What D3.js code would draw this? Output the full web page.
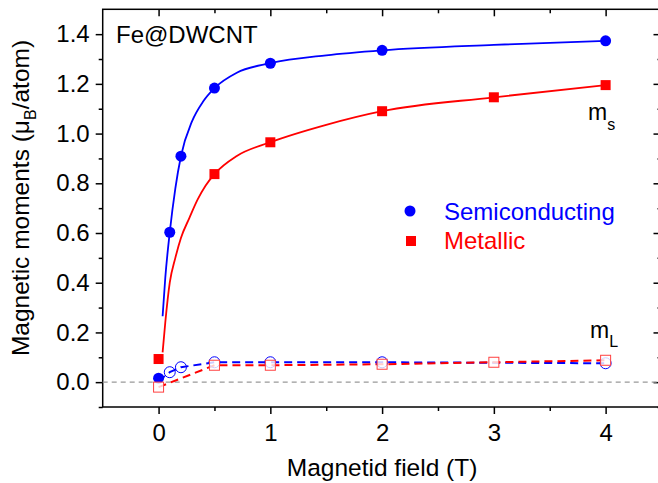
<!DOCTYPE html>
<html>
<head>
<meta charset="utf-8">
<script src="https://cdn.jsdelivr.net/npm/d3@7/dist/d3.min.js"></script>
<style>
  body { margin: 0; background: #fff; }
  svg { display: block; font-family: "Liberation Sans", Arial, sans-serif; }
  .axis path, .axis line { stroke: #000; stroke-width: 1.5; }
  .axis text { font-size: 24px; fill: #000; font-family: "Liberation Sans", Arial, sans-serif; }
</style>
</head>
<body>
<div id="chart"></div>
<script>
// spin moments (filled markers)
var semiField = [0, 0.1, 0.2, 0.5, 1, 2, 4];
var semiMs    = [0.016, 0.603, 0.909, 1.183, 1.283, 1.335, 1.373];
var metField  = [0, 0.5, 1, 2, 3, 4];
var metMs     = [0.093, 0.837, 0.965, 1.09, 1.146, 1.195];

// orbital moments (open markers)
var semiMl = [0.005, 0.04, 0.06, 0.08, 0.08, 0.08, 0.076];
var metMlField = [0, 0.5, 1, 2, 3, 4];
var metMl  = [-0.02, 0.068, 0.068, 0.072, 0.08, 0.088];

// fit curves
var semiFitX = [0.036, 0.06, 0.1, 0.15, 0.2, 0.3, 0.4, 0.5, 0.7, 1, 1.5, 2, 3, 4];
var semiFitY = [0.265, 0.42, 0.603, 0.78, 0.909, 1.05, 1.13, 1.183, 1.245, 1.283, 1.315, 1.335, 1.357, 1.373];
var metFitX  = [0.036, 0.06, 0.1, 0.15, 0.2, 0.275, 0.35, 0.42, 0.5, 0.7, 1, 1.5, 2, 3, 4];
var metFitY  = [0.12, 0.24, 0.40, 0.50, 0.58, 0.66, 0.735, 0.79, 0.837, 0.91, 0.965, 1.035, 1.09, 1.146, 1.195];

var xTicks = [0, 1, 2, 3, 4];
var xMinor = [0.5, 1.5, 2.5, 3.5];
var yTicks = [0, 0.2, 0.4, 0.6, 0.8, 1.0, 1.2, 1.4];
var yMinor = [-0.1, 0.1, 0.3, 0.5, 0.7, 0.9, 1.1, 1.3];

var W = 658, H = 483;
var svg = d3.select('#chart').append('svg').attr('width', W).attr('height', H);

var x = d3.scaleLinear().domain([-0.5, 4.5]).range([102.7, 661.5]);
var y = d3.scaleLinear().domain([-0.1, 1.5]).range([407, 9.3]);

var blue = '#0000ff', red = '#ff0000';

// axes
svg.append('g').attr('class', 'axis').attr('transform', 'translate(0,407)')
  .call(d3.axisBottom(x).tickValues(xTicks).tickSize(7).tickPadding(10).tickFormat(d3.format('d')));
svg.append('g').attr('class', 'axis').attr('transform', 'translate(0,407)')
  .call(d3.axisBottom(x).tickValues(xMinor).tickSize(4).tickFormat(''));
svg.append('g').attr('class', 'axis').attr('transform', 'translate(0,9.3)')
  .call(d3.axisTop(x).tickValues(xTicks).tickSize(-7).tickFormat(''));
svg.append('g').attr('class', 'axis').attr('transform', 'translate(0,9.3)')
  .call(d3.axisTop(x).tickValues(xMinor).tickSize(-4).tickFormat(''));

svg.append('g').attr('class', 'axis').attr('transform', 'translate(102.7,0)')
  .call(d3.axisLeft(y).tickValues(yTicks).tickSize(7).tickPadding(6).tickFormat(d3.format('.1f')));
svg.append('g').attr('class', 'axis').attr('transform', 'translate(102.7,0)')
  .call(d3.axisLeft(y).tickValues(yMinor).tickSize(4).tickFormat(''));
svg.append('g').attr('class', 'axis').attr('transform', 'translate(661.5,0)')
  .call(d3.axisRight(y).tickValues(yTicks).tickSize(-8).tickFormat(''));
svg.append('g').attr('class', 'axis').attr('transform', 'translate(661.5,0)')
  .call(d3.axisRight(y).tickValues(yMinor).tickSize(-4).tickFormat(''));

svg.selectAll('.axis .domain').remove();
svg.append('rect').attr('x', 102.7).attr('y', 9.3)
  .attr('width', 661.5 - 102.7).attr('height', 407 - 9.3)
  .attr('fill', 'none').attr('stroke', '#000').attr('stroke-width', 1.5);

// zero line
svg.append('line').attr('x1', x(-0.5)).attr('x2', x(4.5)).attr('y1', y(0)).attr('y2', y(0))
  .attr('stroke', '#999').attr('stroke-width', 1.2).attr('stroke-dasharray', '5,4');

var line = d3.line().x(function(d) { return x(d[0]); }).y(function(d) { return y(d[1]); });
var smooth = d3.line().curve(d3.curveMonotoneX).x(function(d) { return x(d[0]); }).y(function(d) { return y(d[1]); });

function pairs(xs, ys) { return xs.map(function(v, i) { return [v, ys[i]]; }); }

// fit curves
svg.append('path').attr('d', smooth(pairs(semiFitX, semiFitY)))
  .attr('fill', 'none').attr('stroke', blue).attr('stroke-width', 1.8);
svg.append('path').attr('d', smooth(pairs(metFitX, metFitY)))
  .attr('fill', 'none').attr('stroke', red).attr('stroke-width', 1.8);

// orbital dashed lines
svg.append('path').attr('d', line(pairs(semiField, semiMl)))
  .attr('fill', 'none').attr('stroke', blue).attr('stroke-width', 2).attr('stroke-dasharray', '8,5');
svg.append('path').attr('d', line(pairs(metMlField, metMl)))
  .attr('fill', 'none').attr('stroke', red).attr('stroke-width', 2).attr('stroke-dasharray', '8,5');

// filled markers
svg.selectAll('.semiMs').data(pairs(semiField, semiMs)).enter().append('circle')
  .attr('cx', function(d) { return x(d[0]); }).attr('cy', function(d) { return y(d[1]); })
  .attr('r', 5.5).attr('fill', blue);
svg.selectAll('.metMs').data(pairs(metField, metMs)).enter().append('rect')
  .attr('x', function(d) { return x(d[0]) - 5; }).attr('y', function(d) { return y(d[1]) - 5; })
  .attr('width', 10).attr('height', 10).attr('fill', red);

// open markers
svg.selectAll('.semiMl').data(pairs(semiField, semiMl).slice(1)).enter().append('circle')
  .attr('cx', function(d) { return x(d[0]); }).attr('cy', function(d) { return y(d[1]); })
  .attr('r', 5.5).attr('fill', 'none').attr('stroke', blue).attr('stroke-width', 1);
svg.selectAll('.metMl').data(pairs(metMlField, metMl)).enter().append('rect')
  .attr('x', function(d) { return x(d[0]) - 5; }).attr('y', function(d) { return y(d[1]) - 5; })
  .attr('width', 10).attr('height', 10).attr('fill', '#fff').attr('fill-opacity', 0.8)
  .attr('stroke', '#ff4040').attr('stroke-width', 1);

// legend
svg.append('circle').attr('cx', 410).attr('cy', 211).attr('r', 5.5).attr('fill', blue);
svg.append('text').attr('x', 444).attr('y', 220).attr('font-size', 24).attr('fill', blue).text('Semiconducting');
svg.append('rect').attr('x', 406).attr('y', 236).attr('width', 10).attr('height', 10).attr('fill', red);
svg.append('text').attr('x', 444).attr('y', 249).attr('font-size', 24).attr('fill', red).text('Metallic');

// labels
svg.append('text').attr('x', 116).attr('y', 43).attr('font-size', 24).text('Fe@DWCNT');

var ms = svg.append('text').attr('x', 588).attr('y', 120).attr('font-size', 23);
ms.append('tspan').text('m');
ms.append('tspan').attr('dy', 10).attr('font-size', 16).text('s');
var ml = svg.append('text').attr('x', 590).attr('y', 338).attr('font-size', 23);
ml.append('tspan').text('m');
ml.append('tspan').attr('dy', 9).attr('font-size', 16).text('L');

svg.append('text').attr('x', x(2)).attr('y', 476).attr('text-anchor', 'middle')
  .attr('font-size', 24.5).text('Magnetid field (T)');

var yl = svg.append('text').attr('transform', 'translate(29,198) rotate(-90)')
  .attr('text-anchor', 'middle').attr('font-size', 24.5);
yl.append('tspan').text('Magnetic moments (\u03bc');
yl.append('tspan').attr('dy', 7).attr('font-size', 16).text('B');
yl.append('tspan').attr('dy', -7).text('/atom)');
</script>
</body>
</html>
